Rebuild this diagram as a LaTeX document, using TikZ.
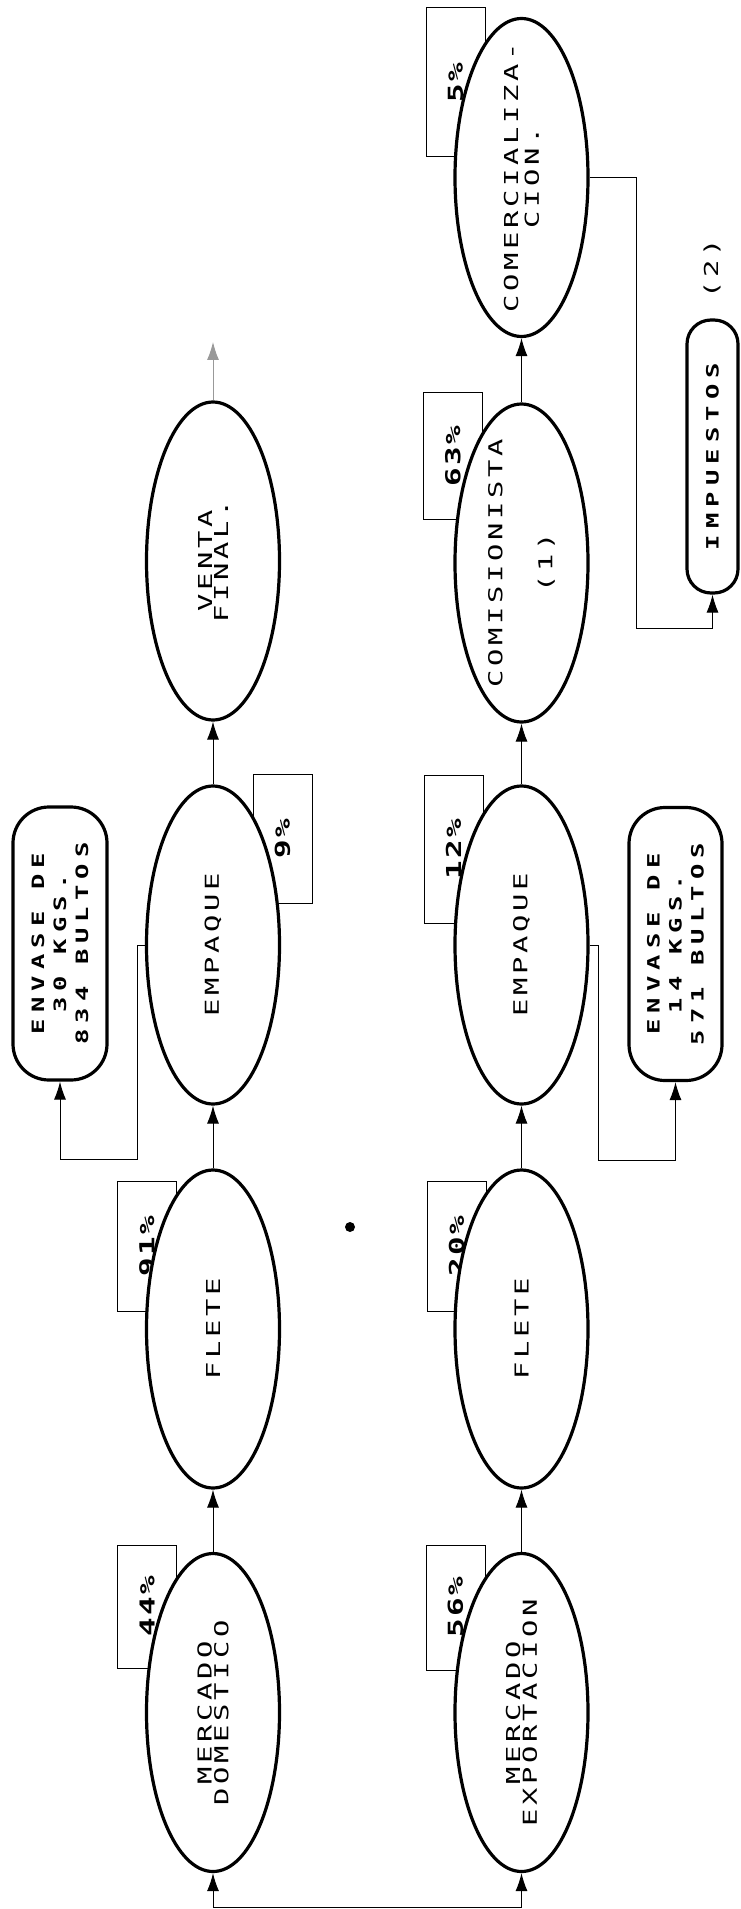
\documentclass[tikz,border=0pt]{standalone}
\usepackage{fontspec}
\usepackage{tikz}
\usetikzlibrary{shapes,arrows,arrows.meta,positioning}
\newfontfamily\dotfont[FakeStretch=1.5,LetterSpace=19]{DejaVu Sans Mono}
\newfontfamily\envfont[FakeStretch=1.5,LetterSpace=36]{DejaVu Sans Mono}
\newfontfamily\pctfont[FakeStretch=1.5,LetterSpace=12]{DejaVu Sans Mono}
\tikzstyle{oval} = [ellipse, draw, line width=1.6pt, fill=white, rotate=90, minimum width=159pt, minimum height=66.5pt, inner sep=-15pt, align=center, font=\dotfont\fontsize{9.6pt}{7pt}\selectfont]
\tikzstyle{pill} = [rectangle, draw, line width=1.6pt, fill=white, rotate=90, minimum width=136.5pt, inner sep=0pt, align=center, font=\envfont\bfseries\fontsize{8.5pt}{11pt}\selectfont]
\tikzstyle{pct} = [rectangle, draw, line width=0.5pt, rotate=90, minimum height=29.5pt, inner sep=0pt, font=\pctfont\bfseries\fontsize{10.3pt}{12pt}\selectfont]
\tikzstyle{line} = [draw, line width=0.5pt, -{Latex[length=9pt,width=6pt]}]

\begin{document}
\begin{tikzpicture}[x=0.5pt, y=-0.5pt]
    \path [use as bounding box, fill=white] (0,0) rectangle (740,1909);

    % Percentage boxes, behind the ovals
    \node [pct, minimum width=61.5pt] (p44) at (147,1606.5) {44\%};
    \node [pct, minimum width=62.5pt] (p56) at (455.5,1607.5) {56\%};
    \node [pct, minimum width=65pt] (p91) at (147,1246) {91\%};
    \node [pct, minimum width=65pt] (p20) at (456.5,1246) {20\%};
    \node [pct, minimum width=64.5pt] (p9) at (282.5,838.5) {9\%};
    \node [pct, minimum width=74pt] (p12) at (453.5,849) {12\%};
    \node [pct, minimum width=63pt] (p63) at (453,456) {63\%};
    \node [pct, minimum width=74.5pt] (p5) at (455.5,82.5) {5\%};

    % Place nodes
    \node [oval] (domD) at (213,1712.5) {MERCADO\\DOMESTICO};
    \node [oval] (fleteD) at (213,1329) {FLETE};
    \node [oval] (empD) at (213,945) {EMPAQUE};
    \node [oval] (ventaD) at (213,561) {VENTA\\[1pt]FINAL.};

    \node [oval] (expE) at (521.5,1712.5) {MERCADO\\EXPORTACION};
    \node [oval] (fleteE) at (521.5,1329) {FLETE};
    \node [oval] (empE) at (521.5,945) {EMPAQUE};
    \node [oval] (comis) at (521.5,563) {COMISIONISTA\\[16.5pt](1)};
    \node [oval] (comerc) at (521.5,177.5) {COMERCIALIZA-\\[2pt]CION.};

    \node [pill, minimum height=47pt, rounded corners=18pt] (envD) at (60,943.5) {ENVASE DE\\30 KGS.\\834 BULTOS};
    \node [pill, minimum height=46.5pt, rounded corners=18pt] (envE) at (675.5,944) {ENVASE DE\\14 KGS.\\571 BULTOS};
    \node [pill, minimum height=25.5pt, rounded corners=12pt] (impu) at (712.5,456.5) {IMPUESTOS};
    \node [rotate=90, font=\dotfont\fontsize{9.6pt}{7pt}\selectfont] (note2) at (712,269) {(2)};

    \coordinate (srcL) at (213,1907);
    \coordinate (srcR) at (521.5,1907);
    \coordinate (ventaEnd) at (213,342);
    \coordinate (bendD) at (137,1159);
    \coordinate (bendE) at (598,1160);
    \coordinate (bendC) at (636,628);

    % Draw edges
    \draw [line width=0.5pt] (srcL) -- (srcR);
    \path [line] (srcL) -- (domD.west);
    \path [line] (srcR) -- (expE.west);

    \path [line] (domD.east) -- (fleteD.west);
    \path [line] (fleteD.east) -- (empD.west);
    \path [line] (empD.east) -- (ventaD.west);
    \path [line, draw=black!40, fill=black!40] (ventaD.east) -- (ventaEnd);

    \path [line] (expE.east) -- (fleteE.west);
    \path [line] (fleteE.east) -- (empE.west);
    \path [line] (empE.east) -- (comis.west);
    \path [line] (comis.east) -- (comerc.west);

    \path [line] (empD.north) -| (bendD) -| (envD.west);
    \path [line] (empE.south) -| (bendE) -| (envE.west);
    \path [line] (comerc.south) -| (bendC) -| (impu.west);

    \fill (350,1227) circle (2.5pt);
\end{tikzpicture}
\end{document}
